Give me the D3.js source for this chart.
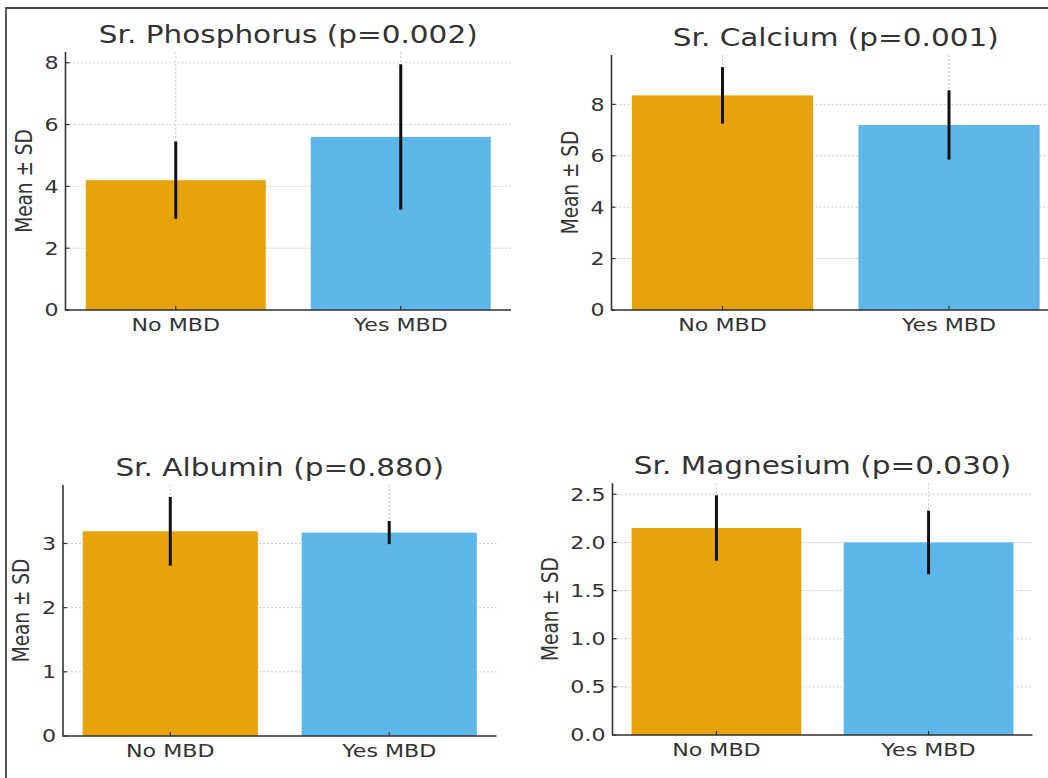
<!DOCTYPE html>
<html>
<head>
<meta charset="utf-8">
<script src="https://cdn.jsdelivr.net/npm/d3@7"></script>
<style>
  body { margin: 0; background: #fff; }
  svg { display: block; font-family: "DejaVu Sans", sans-serif; }
</style>
</head>
<body>
<div id="chart"></div>
<script>
const categories = ["No MBD", "Yes MBD"];
const titles = ["Sr. Phosphorus (p=0.002)", "Sr. Calcium (p=0.001)", "Sr. Albumin (p=0.880)", "Sr. Magnesium (p=0.030)"];

const phosphorusMean = [4.2, 5.6];
const phosphorusSD = [1.25, 2.35];
const calciumMean = [8.35, 7.2];
const calciumSD = [1.1, 1.35];
const albuminMean = [3.19, 3.17];
const albuminSD = [0.535, 0.18];
const magnesiumMean = [2.15, 2.0];
const magnesiumSD = [0.34, 0.33];

const phosphorusTicks = [0, 2, 4, 6, 8];
const calciumTicks = [0, 2, 4, 6, 8];
const albuminTicks = [0, 1, 2, 3];
const magnesiumTicks = [0, 0.5, 1.0, 1.5, 2.0, 2.5];
const magnesiumTickLabels = ["0.0", "0.5", "1.0", "1.5", "2.0", "2.5"];

const colors = ["#E69F00", "#56B4E9"];
const yLabel = "Mean ± SD";

const width = 1048, height = 778;
const sx = 1.23; // the picture is stretched wider than tall
const ink = "#333";

// where each plot area sits on the page
const panels = [
  { x0: 65.5, x1: 511, top: 52, bottom: 310, mean: phosphorusMean, sd: phosphorusSD, ticks: phosphorusTicks },
  { x0: 611.5, x1: 1060, top: 55, bottom: 310, mean: calciumMean, sd: calciumSD, ticks: calciumTicks },
  { x0: 63, x1: 496.5, top: 485, bottom: 736, mean: albuminMean, sd: albuminSD, ticks: albuminTicks },
  { x0: 612.5, x1: 1032.5, top: 483.3, bottom: 735, mean: magnesiumMean, sd: magnesiumSD, ticks: magnesiumTicks, labels: magnesiumTickLabels }
];

const svg = d3.select("#chart")
  .append("svg")
  .attr("width", width)
  .attr("height", height);

// frame of the screenshot
svg.append("path")
  .attr("d", `M6,${height} V8 H${width}`)
  .attr("fill", "none")
  .attr("stroke", "#444")
  .attr("stroke-width", 1.8);

panels.forEach((p, i) => {
  const g = svg.append("g");
  const ymax = d3.max(p.mean, (m, j) => m + p.sd[j]) * 1.05;

  const x = d3.scaleBand()
    .domain(categories)
    .range([p.x0, p.x1])
    .paddingInner(0.2)
    .paddingOuter(0.09);

  const y = d3.scaleLinear()
    .domain([0, ymax])
    .range([p.bottom, p.top]);

  // grid
  g.append("g")
    .selectAll("line")
    .data(p.ticks)
    .join("line")
    .attr("x1", p.x0).attr("x2", p.x1)
    .attr("y1", d => y(d)).attr("y2", d => y(d))
    .attr("stroke", "#c8c8c8")
    .attr("stroke-dasharray", "2,2");

  g.append("g")
    .selectAll("line")
    .data(categories)
    .join("line")
    .attr("x1", d => x(d) + x.bandwidth() / 2).attr("x2", d => x(d) + x.bandwidth() / 2)
    .attr("y1", p.top).attr("y2", p.bottom)
    .attr("stroke", "#c8c8c8")
    .attr("stroke-dasharray", "2,2");

  // bars
  g.append("g")
    .selectAll("rect")
    .data(categories)
    .join("rect")
    .attr("x", d => x(d))
    .attr("width", x.bandwidth())
    .attr("y", (d, j) => y(p.mean[j]))
    .attr("height", (d, j) => y(0) - y(p.mean[j]))
    .attr("fill", (d, j) => colors[j])
    .attr("fill-opacity", 0.96);

  // error bars
  g.append("g")
    .selectAll("line")
    .data(categories)
    .join("line")
    .attr("x1", d => x(d) + x.bandwidth() / 2).attr("x2", d => x(d) + x.bandwidth() / 2)
    .attr("y1", (d, j) => y(p.mean[j] + p.sd[j]))
    .attr("y2", (d, j) => y(p.mean[j] - p.sd[j]))
    .attr("stroke", "#111")
    .attr("stroke-width", 3);

  // ticks (pointing inward)
  g.append("g")
    .selectAll("line")
    .data(p.ticks)
    .join("line")
    .attr("x1", p.x0).attr("x2", p.x0 + 4)
    .attr("y1", d => y(d)).attr("y2", d => y(d))
    .attr("stroke", ink).attr("stroke-width", 1.2);

  g.append("g")
    .selectAll("line")
    .data(categories)
    .join("line")
    .attr("x1", d => x(d) + x.bandwidth() / 2).attr("x2", d => x(d) + x.bandwidth() / 2)
    .attr("y1", p.bottom).attr("y2", p.bottom - 4)
    .attr("stroke", ink).attr("stroke-width", 1.2);

  // spines
  g.append("path")
    .attr("d", `M${p.x0},${p.top} V${p.bottom} H${p.x1}`)
    .attr("fill", "none")
    .attr("stroke", ink)
    .attr("stroke-width", 1.6);

  // tick labels
  const yLabels = g.append("g")
    .selectAll("text")
    .data(p.ticks)
    .join("text")
    .attr("transform", d => `translate(${p.x0 - 7},${y(d)}) scale(${sx},1)`)
    .attr("text-anchor", "end")
    .attr("dy", "0.36em")
    .attr("font-size", 18)
    .attr("fill", ink)
    .text((d, j) => p.labels ? p.labels[j] : d);

  g.append("g")
    .selectAll("text")
    .data(categories)
    .join("text")
    .attr("transform", d => `translate(${x(d) + x.bandwidth() / 2},${p.bottom + 21}) scale(${sx},1)`)
    .attr("text-anchor", "middle")
    .attr("font-size", 18)
    .attr("fill", ink)
    .text(d => d);

  // y label, placed left of the widest tick label
  const left = d3.min(yLabels.nodes(), n => {
    const b = n.getBBox();
    return p.x0 - 7 - b.width * sx;
  });
  g.append("text")
    .attr("transform", `translate(${left - 21},${(p.top + p.bottom) / 2}) scale(${sx},1) rotate(-90)`)
    .attr("text-anchor", "middle")
    .attr("dy", "0.36em")
    .attr("font-size", 18.5)
    .attr("fill", ink)
    .text(yLabel);

  // title
  g.append("text")
    .attr("transform", `translate(${(p.x0 + p.x1) / 2},${p.top - 9.5}) scale(${sx},1)`)
    .attr("text-anchor", "middle")
    .attr("font-size", 24)
    .attr("fill", ink)
    .text(titles[i]);
});
</script>
</body>
</html>
